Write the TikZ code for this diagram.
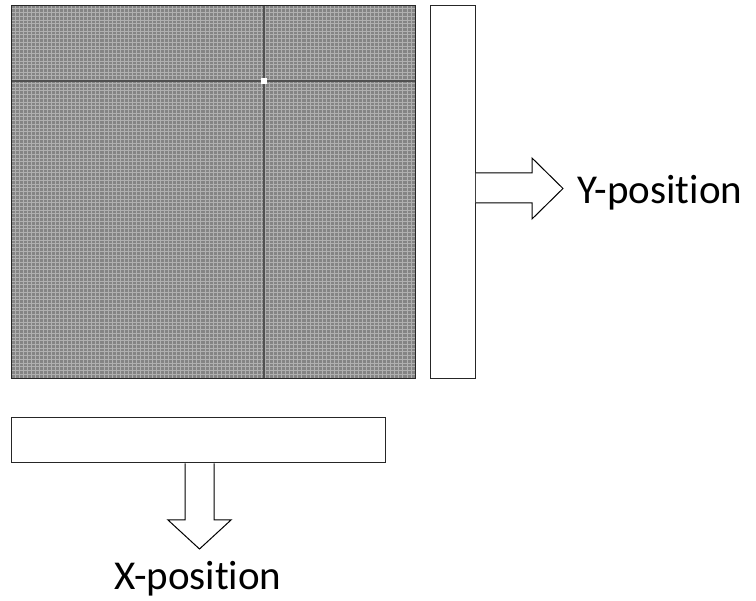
\documentclass[tikz,border=0pt]{standalone}
\usepackage{fontspec}
\setmainfont[Ligatures={NoCommon},RawFeature={-liga}]{Carlito}
\definecolor{gridbg}{RGB}{132,132,132}
\definecolor{gridln}{RGB}{176,176,176}
\definecolor{darkln}{RGB}{80,80,80}
\begin{document}
\begin{tikzpicture}[x=1pt,y=-1pt,
  bar/.style={draw=black!85,line width=1.4pt,fill=white},
  arrowshape/.style={draw=black,line width=1pt,fill=white,line join=miter},
  label/.style={font=\fontsize{41}{46}\selectfont,inner sep=0pt}]
\useasboundingbox (0,0) rectangle (756,601);
% grid image
\fill[gridbg] (11,5) rectangle (415,378);
\foreach \i in {1,...,99}{
  \draw[gridln,line width=0.8pt] ({11+\i*4.04},5) -- ({11+\i*4.04},378);
  \draw[gridln,line width=0.8pt] (11,{5+\i*3.73}) -- (415,{5+\i*3.73});
}
\draw[darkln,line width=2pt] (11,81.5) -- (415,81.5);
\draw[darkln,line width=2pt] (264,5) -- (264,378);
\fill[white] (260.5,78.5) rectangle (266.5,84.5);
\node[draw=black!85,line width=1.4pt,minimum width=404pt,minimum height=373pt,inner sep=0pt,anchor=north west] (img) at (11,5) {};
% bars
\node[bar,minimum width=45pt,minimum height=373pt,inner sep=0pt,anchor=north west] (ybar) at (429.5,5) {};
\node[bar,minimum width=374pt,minimum height=45pt,inner sep=0pt,anchor=north west] (xbar) at (11,417) {};
% right arrow
\draw[arrowshape] (ybar.east |- 0,173) -- (532,173) -- (532,158) -- (563,188.5) -- (532,219) -- (532,203) -- (ybar.east |- 0,203);
% down arrow
\draw[arrowshape] (185,0 |- xbar.south) -- (185,520) -- (168,520) -- (199.5,549) -- (231,520) -- (214,520) -- (214,0 |- xbar.south);
% labels
\node[label,anchor=base west] (ylab) at (577,204) {Y-position};
\node[label,anchor=base] (xlab) at (198,590) {X-position};
\end{tikzpicture}
\end{document}
